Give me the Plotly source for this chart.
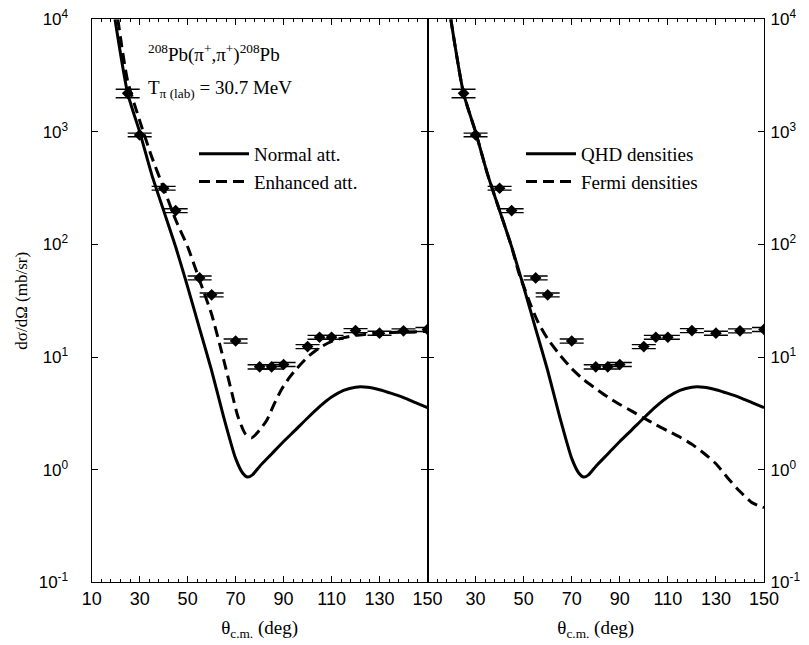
import plotly.graph_objects as go

# ---------------- data ----------------
angle_data = [25, 30, 40, 45, 55, 60, 70, 80, 85, 90, 100, 105, 110, 120, 130, 140, 150]
xsec_data = [2200, 940, 316, 200, 50.5, 35.7, 13.9, 8.2, 8.2, 8.6, 12.4, 15.0, 15.0, 17.2, 16.3, 17.1, 17.6]
xsec_err = [190, 35, 12, 8, 2.0, 1.4, 0.6, 0.35, 0.35, 0.35, 0.5, 0.6, 0.6, 0.7, 0.65, 0.7, 0.7]

angle_normal = [19.7, 25, 30, 35, 40, 45, 50, 55, 60, 65, 70, 73, 75, 77, 80, 85, 90, 95,
                100, 105, 110, 115, 120, 125, 130, 135, 140, 145, 150]
xsec_normal = [10000, 2200, 1000, 420, 200, 95.5, 42, 17.8, 7.6, 2.95, 1.26, 0.93, 0.86, 0.90,
               1.07, 1.38, 1.78, 2.26, 2.88, 3.63, 4.42, 5.07, 5.41, 5.40, 5.13, 4.76, 4.37, 3.94, 3.55]

angle_enh = [20.9, 25, 30, 35, 40, 45, 50, 55, 60, 65, 68, 71, 74, 76.7, 80, 83, 86, 89, 92, 95,
             100, 105, 110, 115, 120, 130, 140, 150]
xsec_enh = [10000, 2818, 1259, 603, 316, 166, 95.5, 48, 24, 9.5, 5.25, 2.95, 2.09, 1.92, 2.25,
            2.75, 3.8, 5.1, 6.4, 7.7, 10.0, 12.1, 13.8, 14.9, 15.6, 16.4, 16.7, 16.9]

angle_fermi = [19.7, 25, 30, 35, 40, 45, 48, 50, 53, 56, 60, 65, 70, 75, 80, 85, 90, 95, 100,
               105, 110, 115, 120, 125, 130, 135, 140, 145, 150]
xsec_fermi = [10000, 2200, 1000, 420, 200, 95.5, 56, 42.7, 28.8, 20.4, 14.5, 10.5, 7.9, 6.3, 5.25,
              4.42, 3.8, 3.31, 2.88, 2.51, 2.21, 1.95, 1.68, 1.40, 1.13, 0.84, 0.64, 0.51, 0.46]

x_ticks_left = [10, 30, 50, 70, 90, 110, 130, 150]
x_ticks_right = [30, 50, 70, 90, 110, 130, 150]
y_ticks = [0.1, 1, 10, 100, 1000, 10000]
y_ticktext = ["10<sup>-1</sup>", "10<sup>0</sup>", "10<sup>1</sup>", "10<sup>2</sup>",
              "10<sup>3</sup>", "10<sup>4</sup>"]

SANS = "Liberation Sans, Arial, sans-serif"
SERIF = "Liberation Serif, Times New Roman, serif"

fig = go.Figure()


def add_data(xa, ya):
    fig.add_trace(go.Scatter(
        x=angle_data, y=xsec_data, mode="markers", xaxis=xa, yaxis=ya, showlegend=False,
        marker=dict(symbol="diamond", size=9, color="black"),
        error_y=dict(type="data", array=xsec_err, visible=True, width=12, thickness=1.4, color="black"),
        hoverinfo="skip"))


def add_curve(x, y, name, dash, xa, ya, legend):
    fig.add_trace(go.Scatter(
        x=x, y=y, mode="lines", name=name, xaxis=xa, yaxis=ya, legend=legend,
        line=dict(color="black", width=3, dash=dash, shape="spline", smoothing=0.6)))


add_curve(angle_normal, xsec_normal, "Normal att.", "solid", "x", "y", "legend")
add_curve(angle_enh, xsec_enh, "Enhanced att.", "11px,6px", "x", "y", "legend")
add_data("x", "y")
add_curve(angle_normal, xsec_normal, "QHD densities", "solid", "x2", "y2", "legend2")
add_curve(angle_fermi, xsec_fermi, "Fermi densities", "11px,6px", "x2", "y2", "legend2")
add_data("x2", "y2")

W, H = 809, 645
xl, xm, xr = 91.7 / W, 427.5 / W, 764 / W
yb, yt = 1 - 582.3 / H, 1 - 19.3 / H

xcommon = dict(range=[10, 150], showline=True, linecolor="black", linewidth=1.2, mirror="allticks",
               ticks="inside", ticklen=6, tickwidth=1.2, tickcolor="black", showgrid=False, zeroline=False,
               minor=dict(dtick=4, tick0=10, ticks="inside", ticklen=3, tickwidth=1, tickcolor="black",
                          showgrid=False),
               tickfont=dict(family=SANS, size=18, color="black"))
ycommon = dict(type="log", range=[-1, 4], showline=True, linecolor="black", linewidth=1.2,
               mirror="allticks", ticks="inside", ticklen=6, tickwidth=1.2, tickcolor="black",
               showgrid=False, zeroline=False, tickvals=y_ticks, ticktext=y_ticktext,
               tickfont=dict(family=SANS, size=17, color="black"))

xtitle_font = dict(family=SERIF, size=19, color="black")

fig.update_layout(
    width=W, height=H, margin=dict(l=0, r=0, t=0, b=0, autoexpand=False),
    paper_bgcolor="white", plot_bgcolor="white",
    xaxis=dict(domain=[xl, xm], anchor="y", tickvals=x_ticks_left,
               title=dict(text="θ<sub>c.m.</sub> (deg)", font=xtitle_font, standoff=12), **xcommon),
    xaxis2=dict(domain=[xm, xr], anchor="y2", tickvals=x_ticks_right,
                title=dict(text="θ<sub>c.m.</sub> (deg)", font=xtitle_font, standoff=12), **xcommon),
    yaxis=dict(domain=[yb, yt], anchor="x", side="left", ticklabelstandoff=19,
               title=dict(text="dσ/dΩ (mb/sr)", font=dict(family=SERIF, size=17, color="black"),
                          standoff=6), **ycommon),
    yaxis2=dict(domain=[yb, yt], anchor="x2", side="right", ticklabelstandoff=2, **ycommon),
    legend=dict(x=194 / W, y=1 - 135 / H, xanchor="left", yanchor="top", bgcolor="rgba(0,0,0,0)",
                font=dict(family=SERIF, size=19, color="black"), itemwidth=50, tracegroupgap=0),
    legend2=dict(x=521 / W, y=1 - 135 / H, xanchor="left", yanchor="top", bgcolor="rgba(0,0,0,0)",
                 font=dict(family=SERIF, size=19, color="black"), itemwidth=50, tracegroupgap=0),
    showlegend=True,
)

fig.add_annotation(text="<sup>208</sup>Pb(π<sup>+</sup>,π<sup>+</sup>)<sup>208</sup>Pb",
                   x=146 / W, y=1 - 54 / H, xref="paper", yref="paper", xanchor="left", yanchor="middle",
                   showarrow=False, font=dict(family=SERIF, size=19, color="black"))
fig.add_annotation(text="T<sub>π (lab)</sub> = 30.7 MeV",
                   x=146 / W, y=1 - 89 / H, xref="paper", yref="paper", xanchor="left", yanchor="middle",
                   showarrow=False, font=dict(family=SERIF, size=19, color="black"))

fig.write_html("out.html", config={"displayModeBar": False},
               post_script="document.body.style.margin='0px';")
